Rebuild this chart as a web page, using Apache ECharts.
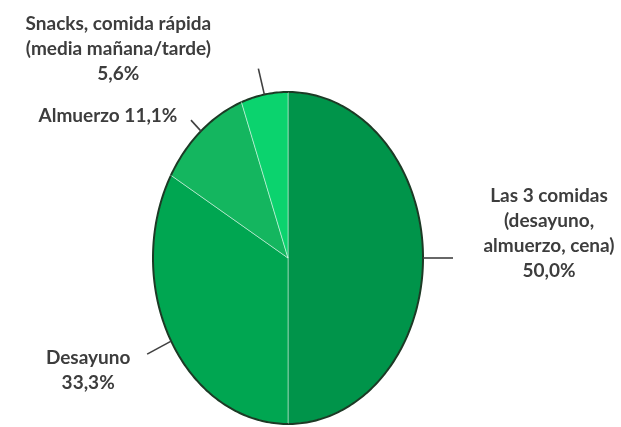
<!DOCTYPE html>
<html>
<head>
<meta charset="utf-8">
<script src="https://cdn.jsdelivr.net/npm/echarts@6/dist/echarts.min.js"></script>
<style>
html,body{margin:0;padding:0;background:#fff;}
#chart{width:621px;height:427px;}
</style>
</head>
<body>
<div id="chart"></div>
<script>
// ---- data ----
const categories = ['Las 3 comidas\n(desayuno,\nalmuerzo, cena)', 'Desayuno', 'Almuerzo', 'Snacks, comida rápida\n(media mañana/tarde)'];
const values = [50.0, 33.3, 11.1, 5.6];
const colors = ['#00944a', '#00a651', '#14b65f', '#0bd36e'];

// ---- layout (not data) ----
const CX = 288, CY = 258, RX = 135, RY = 166;
const labelLayout = [
  { sep: '\n', lead: [30, 0],   text: [96, -25] },
  { sep: '\n', lead: [-24, 13], text: [-59, 16] },
  { sep: ' ',  lead: [-10, -11], text: [-83, -4] },
  { sep: '\n', lead: [-6, -26], text: [-140, -20] }
];

const total = values.reduce((a, b) => a + b, 0);
const starts = [];
let acc = 0;
values.forEach(v => { starts.push(acc); acc += v; });

function pt(deg) {
  const r = deg * Math.PI / 180;
  return [CX + RX * Math.sin(r), CY - RY * Math.cos(r)];
}
function fmt(v) { return v.toFixed(1).replace('.', ',') + '%'; }

const chart = echarts.init(document.getElementById('chart'), null, { renderer: 'canvas' });
chart.setOption({
  backgroundColor: '#ffffff',
  animation: false,
  series: [{
    type: 'custom',
    coordinateSystem: 'none',
    data: values.map((v, i) => ({ name: categories[i], value: v })),
    renderItem: function (params, api) {
      const i = params.dataIndex;
      const v = api.value(0);
      const a0 = starts[i] / total * 360;
      const a1 = (starts[i] + v) / total * 360;
      const arc = [];
      const steps = Math.max(2, Math.ceil(a1 - a0));
      for (let k = 0; k <= steps; k++) arc.push(pt(a0 + (a1 - a0) * k / steps));
      const poly = [[CX, CY]].concat(arc);
      const mid = (a0 + a1) / 2;
      const s = pt(mid);
      const L = labelLayout[i];
      const e = [s[0] + L.lead[0], s[1] + L.lead[1]];
      const t = [e[0] + L.text[0], e[1] + L.text[1]];
      return {
        type: 'group',
        children: [
          { type: 'polygon', shape: { points: poly },
            style: { fill: colors[i], stroke: 'rgba(255,255,255,0.45)', lineWidth: 1 } },
          { type: 'polyline', shape: { points: arc },
            style: { fill: null, stroke: '#1c3a25', lineWidth: 2 } },
          { type: 'polyline', shape: { points: [s, e] },
            style: { fill: null, stroke: '#404040', lineWidth: 1.6 } },
          { type: 'text', x: t[0], y: t[1],
            style: { text: categories[i] + L.sep + fmt(v), align: 'center', verticalAlign: 'middle',
              fontFamily: 'Lato', fontWeight: 'bold', fontSize: 19, lineHeight: 25, fill: '#3d3d3d' } }
        ]
      };
    }
  }]
});
</script>
</body>
</html>
